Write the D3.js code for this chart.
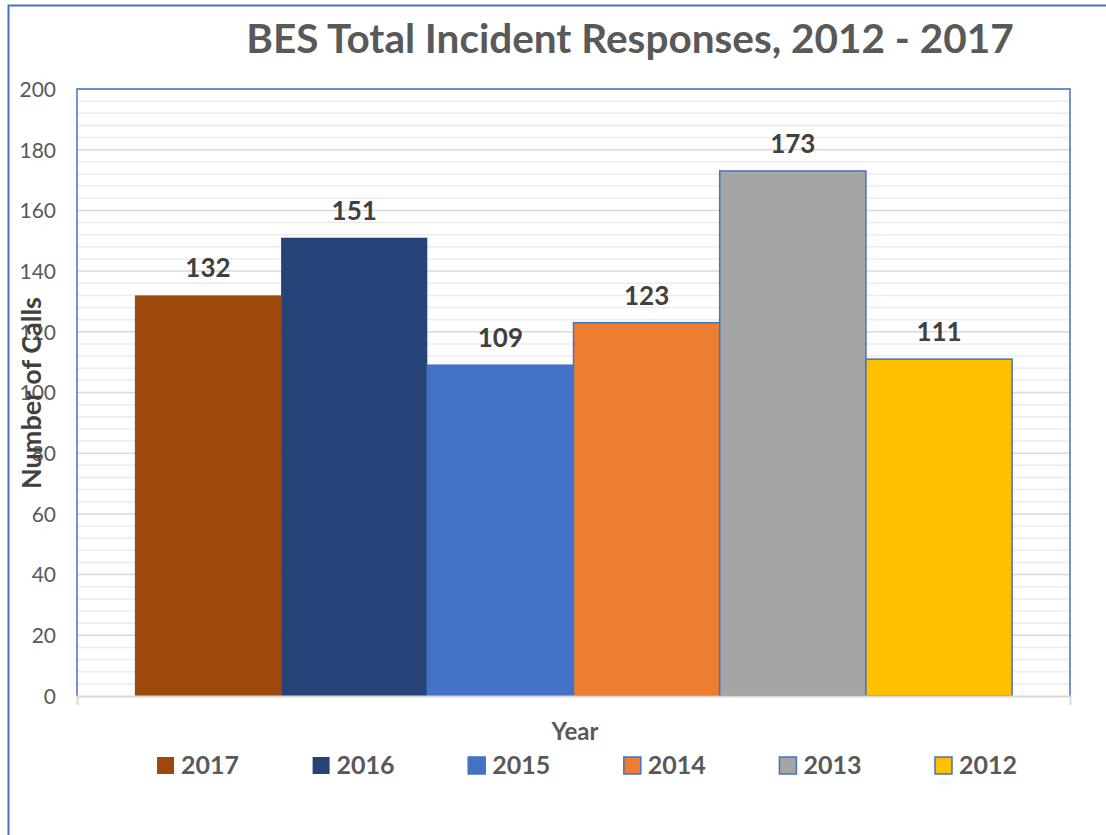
<!DOCTYPE html>
<html>
<head>
<meta charset="utf-8">
<script src="https://cdn.jsdelivr.net/npm/d3@7"></script>
<style>
  html, body { margin: 0; padding: 0; background: #fff; }
  svg { display: block; font-family: Lato, "Open Sans", sans-serif; }
</style>
</head>
<body>
<svg id="chart" width="1106" height="835"></svg>
<script>
// ---- data ----
const years = ["2017", "2016", "2015", "2014", "2013", "2012"];
const calls = [132, 151, 109, 123, 173, 111];
const colors = ["#9e480e", "#264478", "#4472c4", "#ed7d31", "#a5a5a5", "#ffc000"];
const outlined = [false, false, true, true, true, true];
const yTicks = [0, 20, 40, 60, 80, 100, 120, 140, 160, 180, 200];
const titleText = "BES Total Incident Responses, 2012 - 2017";
const yTitle = "Number of Calls";
const xTitle = "Year";

// ---- layout ----
const W = 1106, H = 835;
const plot = { left: 77, top: 89, right: 1070, bottom: 696 };
const svg = d3.select("#chart");

// outer chart frame (top & left visible)
svg.append("path")
  .attr("d", `M8.5,${H + 5} L8.5,5.5 L${W + 5},5.5`)
  .attr("fill", "none").attr("stroke", "#4472c4").attr("stroke-width", 2);

const x = d3.scaleBand().domain(years).range([plot.left, plot.right])
  .paddingInner(0).paddingOuter(0.396);
const y = d3.scaleLinear().domain([0, 200]).range([plot.bottom, plot.top]);

// minor gridlines
const minor = d3.range(0, 201, 4).filter(v => v % 20 !== 0);
svg.append("g").selectAll("line").data(minor).join("line")
  .attr("x1", plot.left).attr("x2", plot.right)
  .attr("y1", d => y(d)).attr("y2", d => y(d))
  .attr("stroke", "#ececec").attr("stroke-width", 1.5);

// major gridlines
svg.append("g").selectAll("line").data(yTicks.filter(v => v > 0)).join("line")
  .attr("x1", plot.left).attr("x2", plot.right)
  .attr("y1", d => y(d)).attr("y2", d => y(d))
  .attr("stroke", "#d9d9d9").attr("stroke-width", 1.5);

// plot area border (top, left, right)
svg.append("path")
  .attr("d", `M${plot.left},${plot.bottom} L${plot.left},${plot.top} L${plot.right},${plot.top} L${plot.right},${plot.bottom}`)
  .attr("fill", "none").attr("stroke", "#4472c4").attr("stroke-width", 1.5);

// y axis tick labels
const yAxis = d3.axisLeft(y).tickValues(yTicks).tickSize(0).tickPadding(0);
const gy = svg.append("g").attr("transform", `translate(${plot.left - 21},0)`).call(yAxis);
gy.select(".domain").remove();
gy.selectAll("text")
  .attr("font-family", "Lato, sans-serif").attr("font-size", 21)
  .attr("fill", "#595959").attr("dy", "0.35em");

// bars
const data = years.map((yr, i) => ({ yr, v: calls[i], c: colors[i], o: outlined[i] }));
svg.append("g").selectAll("rect").data(data).join("rect")
  .attr("x", d => x(d.yr)).attr("width", x.bandwidth())
  .attr("y", d => y(d.v)).attr("height", d => y(0) - y(d.v))
  .attr("fill", d => d.c)
  .attr("stroke", d => d.o ? "#4472c4" : "none").attr("stroke-width", 1.5);

// x axis line with end ticks
const xAxis = d3.axisBottom(x.copy().paddingOuter(0)).tickValues([]).tickSizeOuter(9);
const gx = svg.append("g").attr("transform", `translate(0,${plot.bottom})`).call(xAxis);
gx.select(".domain").attr("stroke", "#d9d9d9").attr("stroke-width", 2);

// value labels
svg.append("g").selectAll("text").data(data).join("text")
  .attr("x", d => x(d.yr) + x.bandwidth() / 2)
  .attr("y", d => y(d.v) - 18)
  .attr("text-anchor", "middle")
  .attr("font-size", 26).attr("font-weight", "bold").attr("fill", "#404040")
  .text(d => d.v);

// title
svg.append("text").attr("x", 630).attr("y", 53).attr("text-anchor", "middle")
  .attr("font-size", 40.5).attr("font-weight", "bold").attr("fill", "#595959")
  .text(titleText);

// y title
svg.append("text").attr("transform", "translate(41,393) rotate(-90)")
  .attr("text-anchor", "middle")
  .attr("font-size", 27).attr("font-weight", "bold").attr("fill", "#404040")
  .text(yTitle);

// x title
svg.append("text").attr("x", 575).attr("y", 740).attr("text-anchor", "middle")
  .attr("font-size", 24).attr("font-weight", "bold").attr("fill", "#595959")
  .text(xTitle);

// legend
const legendX = d3.scalePoint().domain(years).range([157, 935]);
const lg = svg.append("g").selectAll("g").data(data).join("g")
  .attr("transform", d => `translate(${legendX(d.yr)},757)`);
lg.append("rect").attr("width", 17).attr("height", 17)
  .attr("fill", d => d.c)
  .attr("stroke", d => d.o ? "#4472c4" : "none").attr("stroke-width", 1.5);
lg.append("text").attr("x", 24).attr("y", 17)
  .attr("font-size", 25).attr("font-weight", "bold").attr("fill", "#595959")
  .text(d => d.yr);
</script>
</body>
</html>
